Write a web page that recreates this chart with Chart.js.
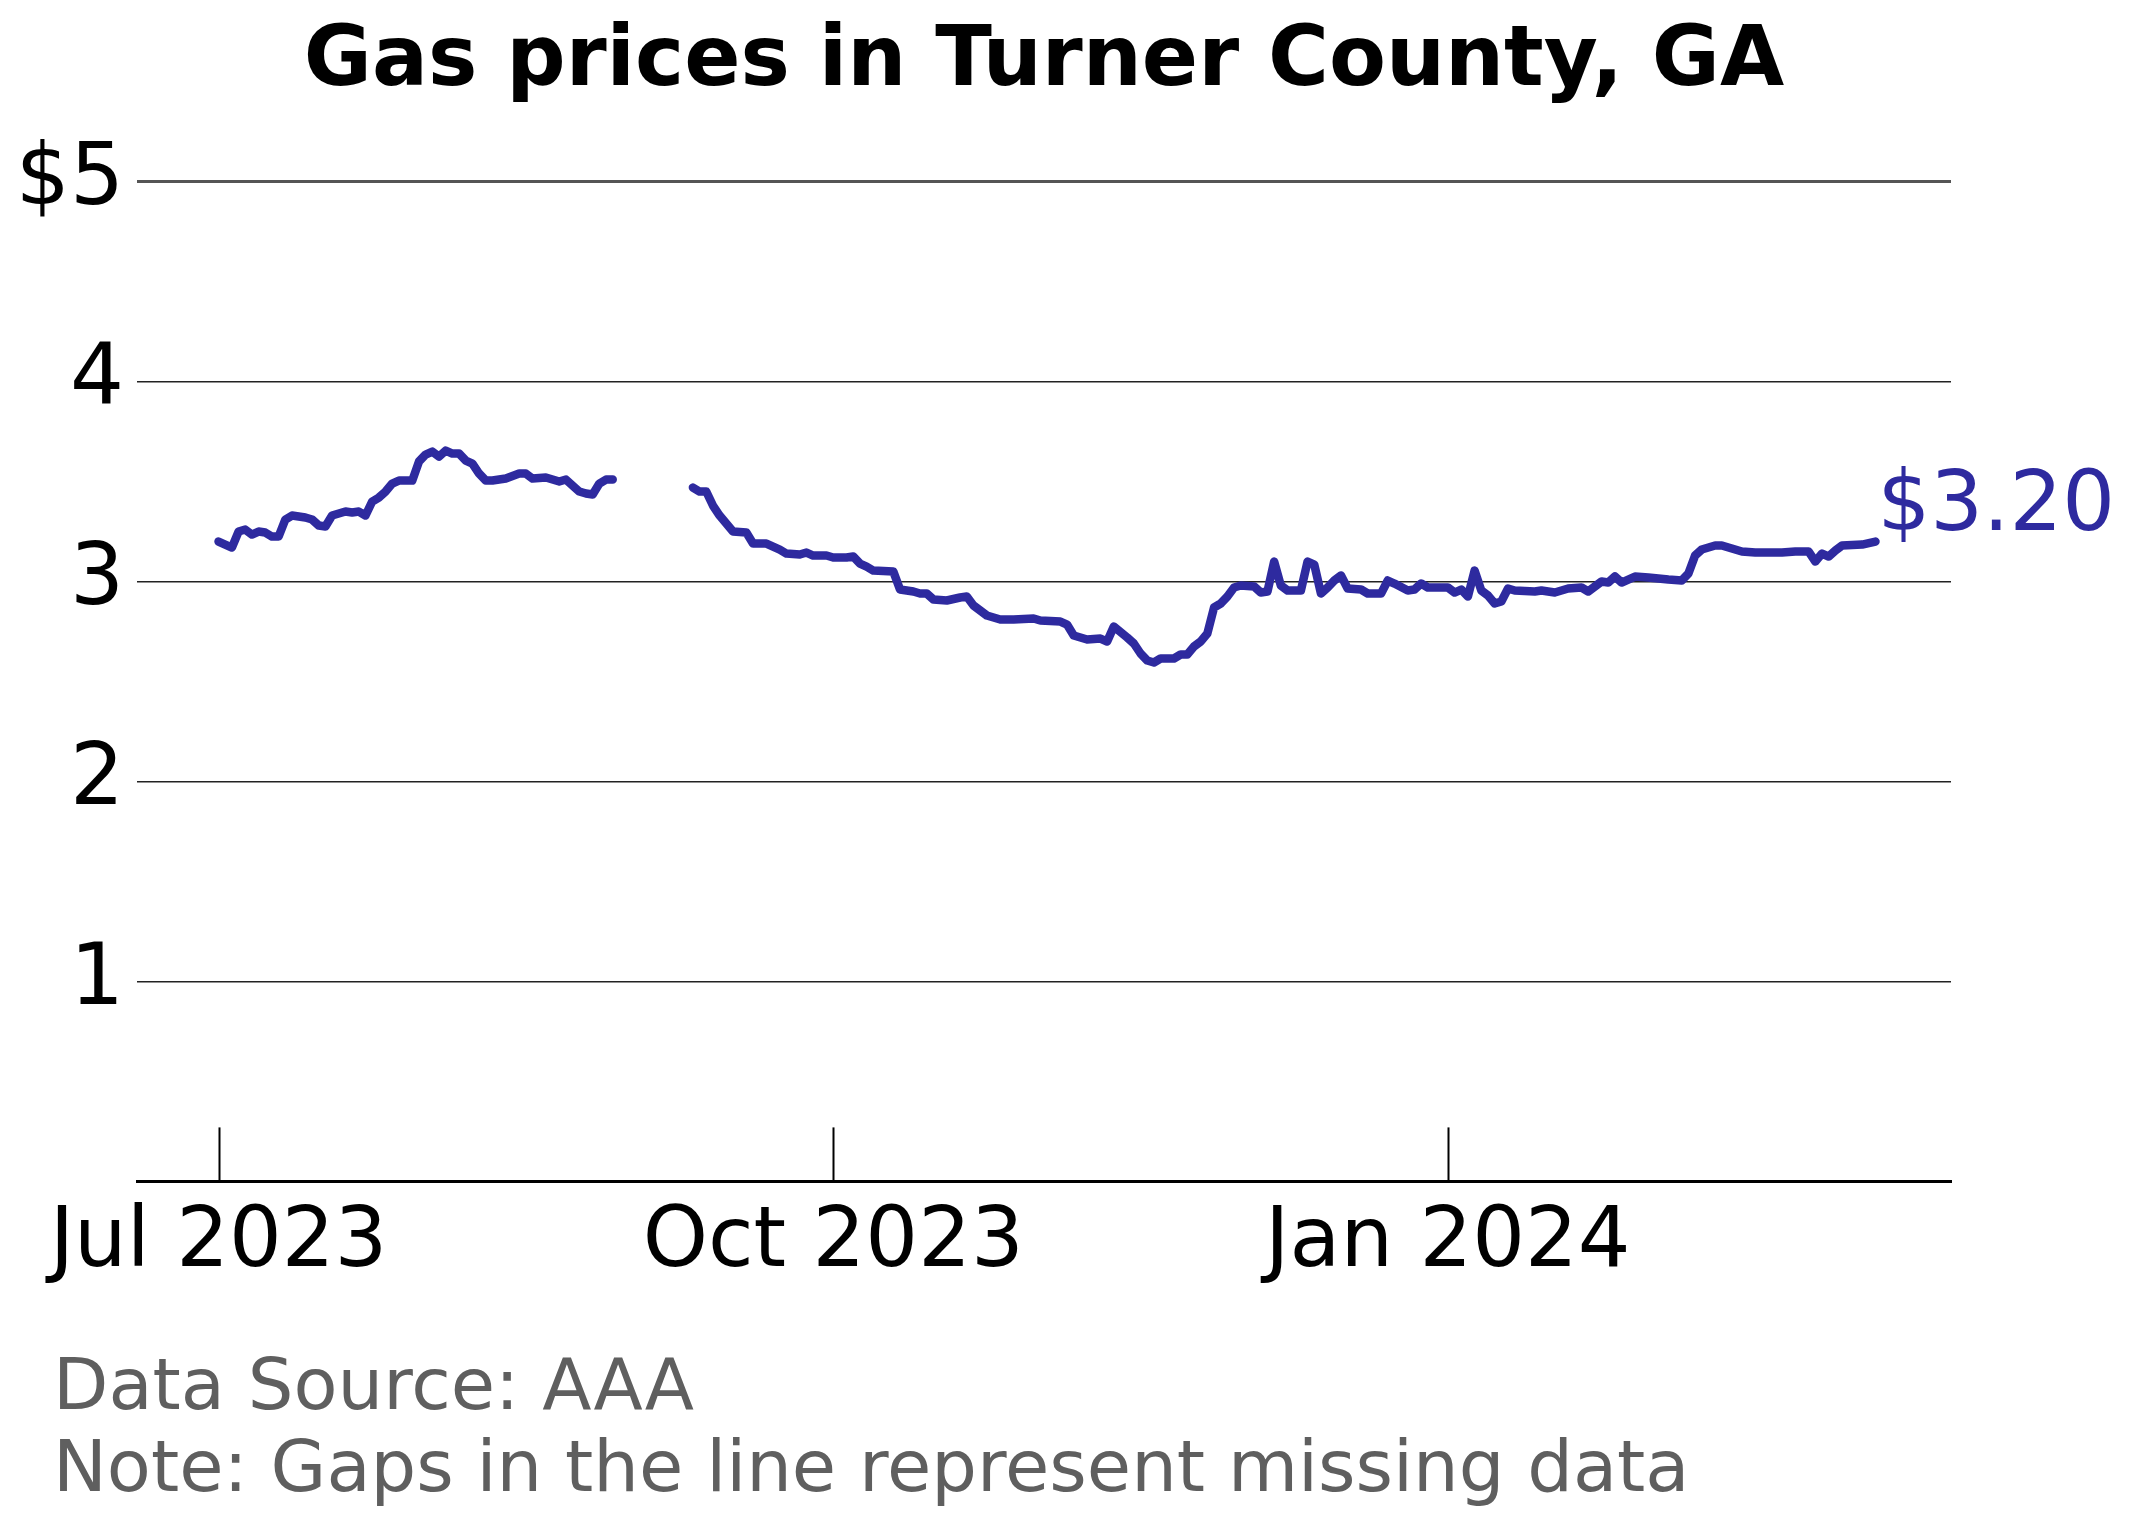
<!DOCTYPE html>
<html>
<head>
<meta charset="utf-8">
<title>Gas prices in Turner County, GA</title>
<script src="https://cdn.jsdelivr.net/npm/chart.js@4/dist/chart.umd.min.js"></script>
<style>
  html, body { margin: 0; padding: 0; background: #fff; }
  #wrap { width: 2132px; height: 1524px; }
</style>
</head>
<body>
<div id="wrap"><canvas id="chart" width="2132" height="1524"></canvas></div>
<script>
// days counted from Jul 1, 2023; null marks the gap in the data
const days = [
  0, 2, 3, 4, 5, 6, 7, 8, 9, 10, 11, 13, 14, 15, 16, 17, 18, 19, 20, 21,
  22, 23, 24, 25, 26, 27, 29, 30, 31, 32, 33, 34, 35, 36, 37, 38, 39, 40, 41, 42,
  43, 45, 46, 47, 49, 51, 52, 54, 55, 56, 57, 58, 59,
  65,
  71, 72, 73, 74, 75, 77, 79, 80, 82, 83, 84, 85, 87, 88, 89, 91, 92, 94, 95, 96,
  97, 98, 101, 102, 104, 105, 106, 107, 109, 111, 112, 113, 115, 117, 119, 122, 123, 126, 127, 128,
  130, 132, 133, 134, 136, 137, 138, 139, 140, 141, 143, 144, 145, 146, 147, 148, 149, 150, 151, 152,
  153, 155, 156, 157, 158, 159, 160, 162, 163, 164, 165, 166, 167, 168, 169, 171, 172, 174, 175, 176,
  178, 179, 180, 181, 184, 185, 186, 187, 188, 189, 190, 191,
  192, 193, 194, 197, 198, 200, 202, 204, 205, 207, 208, 209, 210, 212, 214, 217, 219, 220, 221, 222,
  224, 225, 226, 228, 230, 234, 236, 238, 239, 240, 241, 242, 243, 246, 248
];
const prices = [
  3.20, 3.17, 3.25, 3.26, 3.235, 3.25, 3.245, 3.225, 3.225, 3.31, 3.33, 3.32, 3.31, 3.28, 3.275, 3.33, 3.34, 3.35, 3.345, 3.35,
  3.33, 3.40, 3.42, 3.45, 3.49, 3.505, 3.505, 3.60, 3.635, 3.65, 3.625, 3.655, 3.64, 3.64, 3.605, 3.59, 3.54, 3.505, 3.505, 3.51,
  3.515, 3.54, 3.54, 3.515, 3.52, 3.50, 3.51, 3.45, 3.44, 3.435, 3.49, 3.51, 3.51,
  null,
  3.47, 3.45, 3.45, 3.38, 3.33, 3.25, 3.245, 3.19, 3.19, 3.175, 3.16, 3.14, 3.135, 3.145, 3.13, 3.13, 3.12, 3.12, 3.125, 3.09,
  3.075, 3.055, 3.05, 2.96, 2.95, 2.94, 2.94, 2.91, 2.905, 2.92, 2.925, 2.88, 2.83, 2.81, 2.81, 2.815, 2.805, 2.80, 2.785, 2.73,
  2.71, 2.715, 2.70, 2.775, 2.72, 2.69, 2.64, 2.605, 2.595, 2.615, 2.615, 2.635, 2.635, 2.675, 2.70, 2.74, 2.87, 2.89, 2.925, 2.97,
  2.98, 2.975, 2.945, 2.95, 3.10, 2.98, 2.955, 2.955, 3.10, 3.085, 2.94, 2.97, 3.005, 3.03, 2.965, 2.96, 2.94, 2.94, 3.005, 2.99,
  2.955, 2.96, 2.99, 2.97, 2.97, 2.945, 2.96, 2.925, 3.055, 2.955, 2.93, 2.89,
  2.90, 2.965, 2.955, 2.95, 2.955, 2.945, 2.965, 2.97, 2.95, 3.00, 2.995, 3.025, 2.995, 3.025, 3.02, 3.01, 3.005, 3.04, 3.13, 3.16,
  3.18, 3.18, 3.17, 3.15, 3.145, 3.145, 3.15, 3.15, 3.10, 3.14, 3.125, 3.155, 3.18, 3.185, 3.20
];

const xTickDays = [0, 92, 184];
const xTickLabels = ['Jul 2023', 'Oct 2023', 'Jan 2024'];
const yTickValues = [1, 2, 3, 4, 5];
const yTickLabels = ['1', '2', '3', '4', '$5'];

const titleText = 'Gas prices in Turner County, GA';
const footerLines = ['Data Source: AAA', 'Note: Gaps in the line represent missing data'];

const LINE_COLOR = '#2e2a9f';
const FONT = '"DejaVu Sans", "Liberation Sans", sans-serif';

// small tick marks that rise from the x axis into the plot
const innerTicks = {
  id: 'innerTicks',
  afterDraw(chart) {
    const { ctx, chartArea, scales: { x } } = chart;
    ctx.save();
    ctx.strokeStyle = '#000';
    ctx.lineWidth = 2;
    x.ticks.forEach(t => {
      const px = Math.round(x.getPixelForValue(t.value)) + 0.5;
      ctx.beginPath();
      ctx.moveTo(px, chartArea.bottom);
      ctx.lineTo(px, chartArea.bottom - 54);
      ctx.stroke();
    });
    ctx.restore();
  }
};

// last value label at the end of the line
const endLabel = {
  id: 'endLabel',
  afterDatasetsDraw(chart) {
    const meta = chart.getDatasetMeta(0);
    const last = meta.data[meta.data.length - 1];
    const v = prices[prices.length - 1];
    const { ctx } = chart;
    ctx.save();
    ctx.font = `83px ${FONT}`;
    ctx.fillStyle = LINE_COLOR;
    ctx.textAlign = 'left';
    ctx.textBaseline = 'alphabetic';
    ctx.fillText('$' + v.toFixed(2), last.x + 2, last.y - 12);
    ctx.restore();
  }
};

const footer = {
  id: 'footer',
  afterDraw(chart) {
    const { ctx } = chart;
    ctx.save();
    ctx.font = `72px ${FONT}`;
    ctx.fillStyle = '#5f5f5f';
    ctx.textAlign = 'left';
    ctx.textBaseline = 'alphabetic';
    footerLines.forEach((line, i) => ctx.fillText(line, 53, 1409 + i * 82));
    ctx.restore();
  }
};

new Chart(document.getElementById('chart'), {
  type: 'line',
  data: {
    datasets: [{
      data: days.map((d, i) => ({ x: d, y: prices[i] })),
      borderColor: LINE_COLOR,
      borderWidth: 8.5,
      borderJoinStyle: 'round',
      borderCapStyle: 'round',
      pointRadius: 0,
      tension: 0,
      spanGaps: false,
    }],
  },
  options: {
    responsive: false,
    devicePixelRatio: 1,
    animation: false,
    layout: { padding: { left: 14, right: 181, top: 0, bottom: 217 } },
    plugins: {
      legend: { display: false },
      tooltip: { enabled: false },
      title: {
        display: true,
        text: titleText,
        fullSize: false,
        color: '#000',
        font: { family: FONT, size: 83, weight: 'bold' },
        padding: { top: 14, bottom: 68 },
      },
    },
    scales: {
      x: {
        type: 'linear',
        min: -12.2,
        max: 259.3,
        afterBuildTicks: (s) => { s.ticks = xTickDays.map(v => ({ value: v })); },
        ticks: {
          color: '#000',
          padding: 13,
          maxRotation: 0,
          autoSkip: false,
          font: { family: FONT, size: 83 },
          callback: (v) => xTickLabels[xTickDays.indexOf(v)],
        },
        grid: { display: false, drawTicks: false },
        border: { display: true, color: '#000', width: 3 },
      },
      y: {
        type: 'linear',
        min: 0,
        max: 5,
        afterBuildTicks: (s) => { s.ticks = yTickValues.map(v => ({ value: v })); },
        afterFit: (s) => { s.width = 123; },
        ticks: {
          color: '#000',
          padding: 13,
          font: { family: FONT, size: 85 },
          callback: (v) => yTickLabels[yTickValues.indexOf(v)],
        },
        grid: {
          drawTicks: false,
          color: (c) => (c.tick && c.tick.value === 5 ? '#555' : '#222'),
          lineWidth: (c) => (c.tick && c.tick.value === 5 ? 3 : 1.5),
        },
        border: { display: false },
      },
    },
  },
  plugins: [innerTicks, endLabel, footer],
});
</script>
</body>
</html>
